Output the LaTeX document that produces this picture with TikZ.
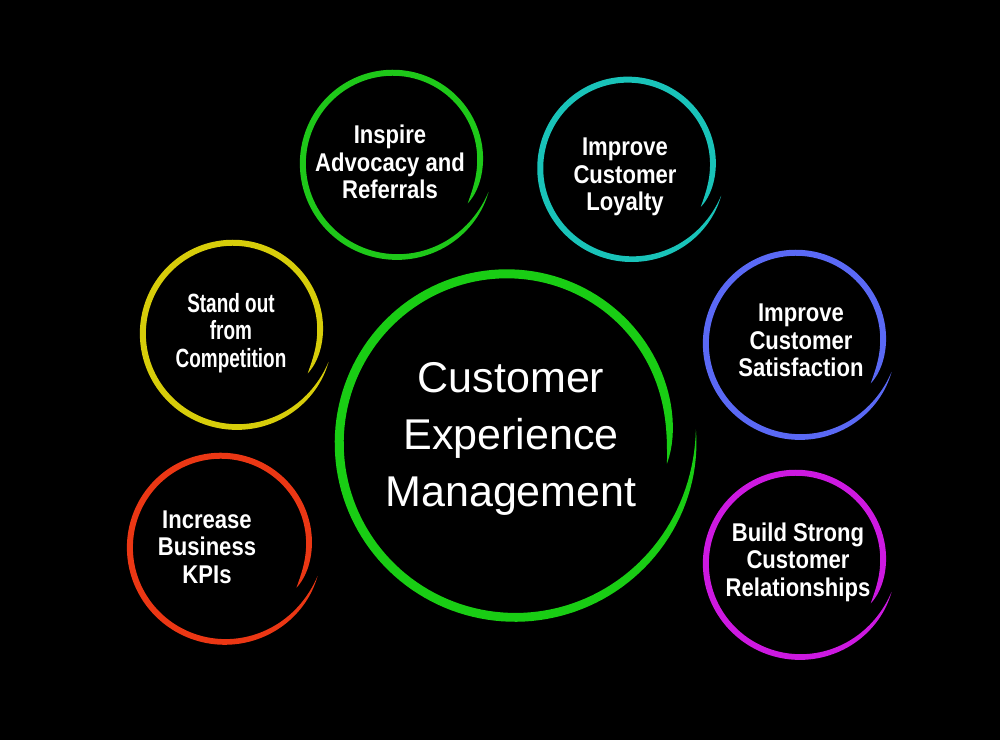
\documentclass[tikz,border=0pt]{standalone}
\usepackage{fontspec}
\setmainfont{Liberation Sans}
\newfontfamily\narrowsans[FakeStretch=0.86]{Liberation Sans Bold}
\newfontfamily\tightsans[FakeStretch=0.72]{Liberation Sans Bold}

\definecolor{cxGreen}{RGB}{25,205,20}
\definecolor{cxLeaf}{RGB}{30,200,25}
\definecolor{cxTeal}{RGB}{25,195,185}
\definecolor{cxYellow}{RGB}{215,205,10}
\definecolor{cxRed}{RGB}{235,55,20}
\definecolor{cxBlue}{RGB}{90,105,245}
\definecolor{cxMagenta}{RGB}{205,25,225}

\tikzset{
    BIG_TEXT/.style={text=white, align=center, inner sep=0pt,
        font={\fontsize{24.5}{32.3}\selectfont}},
    SMALL_TEXT/.style={text=white, align=center, inner sep=0pt,
        font={\narrowsans\fontsize{14.6}{15.7}\selectfont}},
    TIGHT_TEXT/.style={SMALL_TEXT,
        font={\tightsans\fontsize{15}{15.7}\selectfont}},
    % radius / width / start angle / colour
    pics/BRUSH_RING/.style args={#1/#2/#3/#4}{code={
        \fill[#4] plot[domain=0:1, samples=160, variable=\t]
            ({#3-372*\t}:{#1*(1.02-0.15*\t)+0.5*#2*(1-(1-\t)^14)*(1-\t^40)})
            -- plot[domain=1:0, samples=160, variable=\t]
            ({#3-372*\t}:{#1*(1.02-0.15*\t)-0.5*#2*(1-(1-\t)^14)*(1-\t^40)})
            -- cycle;
    }}
}
\pgfdeclarelayer{bglayer}
\pgfdeclarelayer{ringlayer}
\pgfdeclarelayer{nodelayer}
\pgfsetlayers{bglayer,ringlayer,nodelayer,main}

\begin{document}
\begin{tikzpicture}[x=0.02cm, y=0.02cm]
    \begin{pgfonlayer}{bglayer}
        \fill[black] (0, 0) rectangle (1000, 740);
        \useasboundingbox (0, 0) rectangle (1000, 740);
    \end{pgfonlayer}
    \begin{pgfonlayer}{nodelayer}
        \node [SMALL_TEXT] (1) at (390, 578) {Inspire\\Advocacy and\\Referrals};
        \node [SMALL_TEXT] (2) at (625, 563) {Improve\\Customer\\Loyalty};
        \node [TIGHT_TEXT] (3) at (231, 407) {Stand out\\from\\Competition};
        \node [SMALL_TEXT] (4) at (207, 193) {Increase\\Business\\KPIs};
        \node [SMALL_TEXT] (5) at (801, 399.5) {Improve\\Customer\\Satisfaction};
        \node [SMALL_TEXT] (6) at (798, 178) {Build Strong\\Customer\\Relationships};
        \node [BIG_TEXT] (7) at (511, 301) {Customer\\Experience\\Management};
    \end{pgfonlayer}
    \begin{pgfonlayer}{ringlayer}
        \pic at (395, 578.6) {BRUSH_RING={96.5/6/-18/cxLeaf}};
        \pic at (630, 574) {BRUSH_RING={94/6/-18/cxTeal}};
        \pic at (235, 408.6) {BRUSH_RING={96.5/6/-18/cxYellow}};
        \pic at (223, 194.7) {BRUSH_RING={97.5/6/-18/cxRed}};
        \pic at (798, 398.6) {BRUSH_RING={96.5/6/-18/cxBlue}};
        \pic at (798, 178.6) {BRUSH_RING={96.5/6/-18/cxMagenta}};
        \pic at (511, 301) {BRUSH_RING={181.5/9/3/cxGreen}};
    \end{pgfonlayer}
\end{tikzpicture}
\end{document}
